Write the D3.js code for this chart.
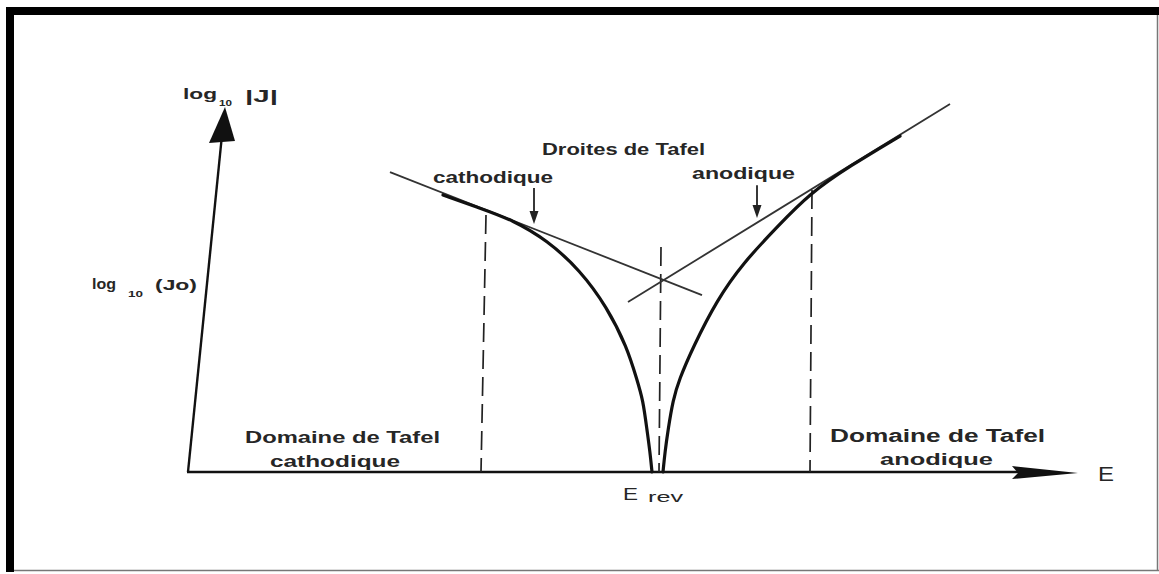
<!DOCTYPE html>
<html>
<head>
<meta charset="utf-8">
<script src="https://cdn.jsdelivr.net/npm/d3@7"></script>
<style>
    html, body { margin: 0; padding: 0; background: #fff; }
    svg { display: block; }
    text { font-family: "Liberation Sans", Arial, sans-serif; font-weight: bold; fill: #262626; }
</style>
</head>
<body>
<div id="tafel-holder"></div>
<script>

// E in mV relative to E_rev, log10|J| in decades (schematic)
var cathodicE = [-214, -177, -144, -110, -77, -50, -30, -20, -14, -10, -7, -5];
var cathodicLogJ = [7.61, 7.25, 6.92, 6.37, 5.55, 4.53, 3.43, 2.53, 1.98, 1.15, 0.55, 0];

var anodicE = [6, 8, 11, 16, 22, 36, 60, 86, 120, 153, 193, 243];
var anodicLogJ = [0, 0.55, 1.15, 1.98, 2.53, 3.43, 4.73, 5.74, 6.73, 7.66, 8.41, 9.23];

// Tafel straight lines, two end points each
var cathodicTafelE = [-267, 45];
var cathodicTafelLogJ = [8.24, 4.86];
var anodicTafelE = [-29, 293];
var anodicTafelLogJ = [4.67, 10.11];

// dashed limits of the Tafel domains and of E_rev
var boundE = [-171, 155, 4];
var boundTopLogJ = [7.06, 7.75, 6.18];

// pointer arrows under the "cathodique" / "anodique" labels
var pointerE = [-123, 100];
var pointerFrom = [7.80, 7.88];
var pointerTo = [6.81, 6.98];

var labels = ['Droites de Tafel', 'cathodique', 'anodique', 'Domaine de Tafel', 'cathodique', 'Domaine de Tafel', 'anodique'];

function createChart(elementId) {

    var width = 1159;
    var height = 574;

    var svg = d3
        .select(elementId)
        .append('svg')
        .attr('width', width)
        .attr('height', height);

    // scanned-page frame: thick on the left/top, thin on the right/bottom
    svg.append('rect')
        .attr('x', 0).attr('y', 0)
        .attr('width', width).attr('height', height)
        .style('fill', '#fff');
    svg.append('rect')
        .attr('x', 6).attr('y', 7)
        .attr('width', width - 6).attr('height', 8)
        .style('fill', '#000');
    svg.append('rect')
        .attr('x', 6).attr('y', 7)
        .attr('width', 8).attr('height', 565)
        .style('fill', '#000');
    svg.append('line')
        .attr('x1', 14).attr('y1', 570.5).attr('x2', width).attr('y2', 570.5)
        .style('stroke', '#777').style('stroke-width', 1.5);
    svg.append('line')
        .attr('x1', 1157.5).attr('y1', 15).attr('x2', 1157.5).attr('y2', 571)
        .style('stroke', '#777').style('stroke-width', 1.5);

    var x = d3.scaleLinear().domain([-470, 418]).range([187, 1075]);
    var y = d3.scaleLinear().domain([0, 10]).range([472, 108]);

    var line = d3.line()
        .x(function(d) { return x(d[0]); })
        .y(function(d) { return y(d[1]); })
        .curve(d3.curveBasis);

    var g = svg.append('g').attr('class', 'plot');

    // axes
    var x0 = x(-470);
    var y0 = y(0);
    g.append('line')
        .attr('x1', x0).attr('y1', y0)
        .attr('x2', 1040).attr('y2', y0)
        .style('stroke', '#111').style('stroke-width', 2.4);
    g.append('path')
        .attr('d', 'M1012,466 L1078,473 L1012,479 L1018,473 Z')
        .style('fill', '#111');
    g.append('line')
        .attr('x1', x0 + 1).attr('y1', y0)
        .attr('x2', 222).attr('y2', 135)
        .style('stroke', '#111').style('stroke-width', 2.4);
    g.append('path')
        .attr('d', 'M225,107 L209,143 L235,141 Z')
        .style('fill', '#111');

    // dashed domain limits
    var bounds = boundE.map(function(e, i) { return { E: e, top: boundTopLogJ[i] }; });
    g.selectAll('.bound')
        .data(bounds)
        .enter()
        .append('line')
        .attr('class', 'bound')
        .attr('x1', function(d) { return x(d.E); })
        .attr('x2', function(d, i) { return i == 0 ? x(d.E) - 5 : x(d.E) - 2; })
        .attr('y1', function(d) { return y(d.top); })
        .attr('y2', y0)
        .style('stroke', '#222')
        .style('stroke-width', 1.7)
        .style('stroke-dasharray', '19,8');

    // Tafel straight lines
    var tafel = [
        d3.zip(cathodicTafelE, cathodicTafelLogJ),
        d3.zip(anodicTafelE, anodicTafelLogJ)
    ];
    g.selectAll('.tafel')
        .data(tafel)
        .enter()
        .append('path')
        .attr('class', 'tafel')
        .attr('d', d3.line().x(function(d) { return x(d[0]); }).y(function(d) { return y(d[1]); }))
        .style('fill', 'none')
        .style('stroke', '#333')
        .style('stroke-width', 1.8);

    // polarisation curves
    var curves = [
        d3.zip(cathodicE, cathodicLogJ),
        d3.zip(anodicE, anodicLogJ)
    ];
    g.selectAll('.curve')
        .data(curves)
        .enter()
        .append('path')
        .attr('class', 'curve')
        .attr('d', line)
        .style('fill', 'none')
        .style('stroke', '#111')
        .style('stroke-width', 3.2)
        .style('stroke-linecap', 'round');

    // pointer arrows
    var pointers = pointerE.map(function(e, i) { return { E: e, from: pointerFrom[i], to: pointerTo[i] }; });
    g.selectAll('.pointer')
        .data(pointers)
        .enter()
        .append('line')
        .attr('class', 'pointer')
        .attr('x1', function(d) { return x(d.E); })
        .attr('x2', function(d) { return x(d.E); })
        .attr('y1', function(d) { return y(d.from); })
        .attr('y2', function(d) { return y(d.to) - 8; })
        .style('stroke', '#222')
        .style('stroke-width', 1.8);
    g.selectAll('.pointer-head')
        .data(pointers)
        .enter()
        .append('path')
        .attr('class', 'pointer-head')
        .attr('d', function(d) {
            var px = x(d.E), py = y(d.to);
            return 'M' + (px - 4.5) + ',' + (py - 13) + ' L' + (px + 4.5) + ',' + (py - 13) + ' L' + px + ',' + py + ' Z';
        })
        .style('fill', '#222');

    // text helper: stretched to the width measured on the scan
    function addText(str, px, py, size, len, weight) {
        var t = g.append('text')
            .attr('x', px)
            .attr('y', py)
            .style('font-size', size + 'px')
            .text(str);
        if (len) {
            t.attr('textLength', len).attr('lengthAdjust', 'spacingAndGlyphs');
        }
        if (weight) {
            t.style('font-weight', weight);
        }
        return t;
    }

    addText(labels[0], 542, 155, 16, 163);
    addText(labels[1], 433, 183, 16, 120);
    addText(labels[2], 692, 179, 16, 103);
    addText(labels[3], 245, 443, 17, 195);
    addText(labels[4], 270, 467, 17, 130);
    addText(labels[5], 830, 442, 18, 215);
    addText(labels[6], 880, 465, 17, 113);

    // axis labels
    addText('log', 183, 99, 14, 34);
    addText('10', 219, 106, 9, 13);
    addText('|J|', 245, 102, 17, 33);
    addText('log', 92, 289, 14, 24);
    addText('10', 128, 297, 9, 15);
    addText('(Jo)', 155, 290, 15, 42);
    addText('E', 1098, 481, 20, 16, 'normal');
    addText('E', 623, 500, 17, 15, 'normal');
    addText('rev', 648, 502, 14, 35, 'normal');
}

createChart('#tafel-holder');
</script>
</body>
</html>
